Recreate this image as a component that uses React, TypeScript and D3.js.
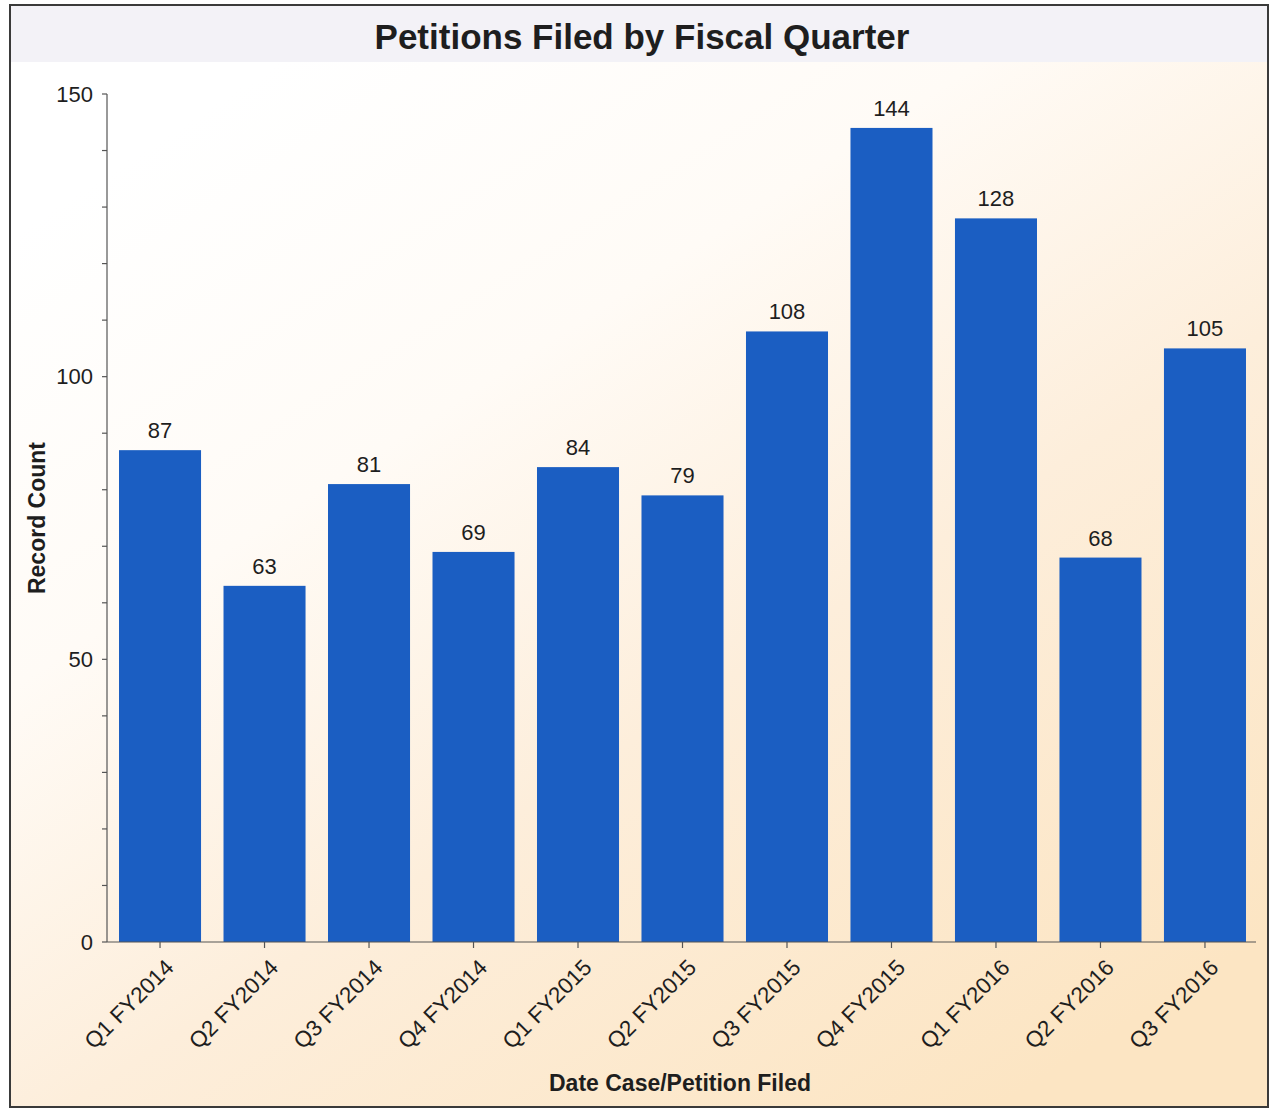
import React from "react";
import * as d3 from "d3";

const categories = [
  "Q1 FY2014", "Q2 FY2014", "Q3 FY2014", "Q4 FY2014",
  "Q1 FY2015", "Q2 FY2015", "Q3 FY2015", "Q4 FY2015",
  "Q1 FY2016", "Q2 FY2016", "Q3 FY2016",
];
const values = [87, 63, 81, 69, 84, 79, 108, 144, 128, 68, 105];
const majorTicks = [0, 50, 100, 150];
const minorTicks = d3.range(0, 151, 10);

const W = 1270;
const H = 1112;
const FONT = "'Liberation Sans', Arial, Helvetica, sans-serif";

export default function App() {
  const x = d3
    .scaleBand<string>()
    .domain(categories)
    .range([107, 1258])
    .paddingInner(0.215)
    .paddingOuter(0.115);
  const y = d3.scaleLinear().domain([0, 150]).range([942, 94]);

  return (
    <svg
      width={W}
      height={H}
      style={{ position: "absolute", left: 0, top: 0 }}
      fontFamily={FONT}
    >
      <defs>
        <linearGradient id="bg" x1="0.15" y1="0.05" x2="0.85" y2="0.95">
          <stop offset="0" stopColor="#ffffff" />
          <stop offset="0.3" stopColor="#fffbf6" />
          <stop offset="0.6" stopColor="#fdeedb" />
          <stop offset="1" stopColor="#fce5c3" />
        </linearGradient>
      </defs>
      <rect x={0} y={0} width={W} height={H} fill="#ffffff" />
      <rect x={10} y={62} width={1258} height={1045} fill="url(#bg)" />
      <rect x={10} y={5} width={1258} height={57} fill="#f3f2f7" />
      <rect
        x={10}
        y={5}
        width={1258}
        height={1102}
        fill="none"
        stroke="#3a3a3a"
        strokeWidth={2}
      />
      <text
        x={642}
        y={49}
        textAnchor="middle"
        fontSize={35}
        fontWeight="bold"
        fill="#1e1e1e"
      >
        Petitions Filed by Fiscal Quarter
      </text>

      {/* bars */}
      {categories.map((c, i) => (
        <rect
          key={c}
          x={x(c)}
          y={y(values[i])}
          width={x.bandwidth()}
          height={y(0) - y(values[i])}
          fill="#1b5ec2"
        />
      ))}
      {categories.map((c, i) => (
        <text
          key={"v" + c}
          x={(x(c) as number) + x.bandwidth() / 2}
          y={y(values[i]) - 12}
          textAnchor="middle"
          fontSize={22}
          fill="#1e1e1e"
        >
          {values[i]}
        </text>
      ))}

      {/* y axis */}
      <line x1={107} x2={107} y1={y(150)} y2={y(0)} stroke="#555" strokeWidth={1.2} />
      {minorTicks.map((t) => (
        <line key={"m" + t} x1={102} x2={107} y1={y(t)} y2={y(t)} stroke="#555" strokeWidth={1.2} />
      ))}
      {majorTicks.map((t) => (
        <text
          key={"t" + t}
          x={93}
          y={y(t)}
          dy="0.35em"
          textAnchor="end"
          fontSize={22}
          fill="#1e1e1e"
        >
          {t}
        </text>
      ))}
      <text
        transform={`translate(45, ${y(75)}) rotate(-90)`}
        textAnchor="middle"
        fontSize={23}
        fontWeight="bold"
        fill="#1e1e1e"
      >
        Record Count
      </text>

      {/* x axis */}
      <line x1={107} x2={1256} y1={y(0)} y2={y(0)} stroke="#555" strokeWidth={1.2} />
      {categories.map((c) => {
        const cx = (x(c) as number) + x.bandwidth() / 2;
        return (
          <g key={"x" + c}>
            <line x1={cx} x2={cx} y1={y(0)} y2={y(0) + 6} stroke="#555" strokeWidth={1.2} />
            <text
              transform={`translate(${cx + 15}, ${y(0) + 27}) rotate(-45)`}
              textAnchor="end"
              fontSize={22.5}
              fill="#1e1e1e"
            >
              {c}
            </text>
          </g>
        );
      })}
      <text
        x={680}
        y={1091}
        textAnchor="middle"
        fontSize={23}
        fontWeight="bold"
        fill="#1e1e1e"
      >
        Date Case/Petition Filed
      </text>
    </svg>
  );
}
